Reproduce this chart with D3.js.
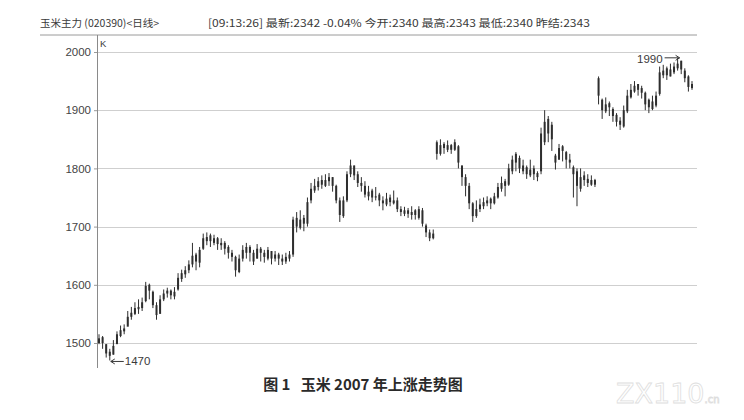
<!DOCTYPE html>
<html>
<head>
<meta charset="utf-8">
<script src="https://d3js.org/d3.v7.min.js"></script>
<style>
  body { margin: 0; background: #fff; }
  svg { display: block; }
</style>
</head>
<body>
<svg id="chart" width="744" height="420"></svg>
<script>
// daily K-line, corn main contract, 2007
var open = [1500,1510,1498,1485,1480,1498,1512,1520,1528,1545,1550,1562,1560,1572,1600,1588,1565,1550,1575,1585,
            1590,1580,1592,1610,1618,1625,1635,1652,1638,1662,1675,1685,1672,1680,1668,1672,1665,1655,1648,1622,
            1645,1655,1665,1655,1645,1662,1655,1645,1658,1645,1652,1645,1640,1645,1652,1715,1698,1715,1705,1745,
            1762,1768,1780,1770,1778,1785,1770,1745,1718,1745,1790,1805,1790,1775,1770,1752,1762,1750,1755,1745,
            1738,1750,1740,1745,1730,1722,1728,1720,1728,1715,1728,1702,1690,1680,1845,1825,1842,1832,1840,1832,
            1838,1805,1785,1770,1740,1718,1730,1735,1740,1748,1740,1750,1765,1778,1772,1795,1825,1818,1795,1802,
            1788,1800,1792,1795,1845,1885,1875,1822,1815,1838,1828,1815,1802,1795,1765,1788,1782,1772,1780,1955,
            1918,1898,1912,1902,1892,1882,1872,1898,1922,1932,1945,1938,1930,1918,1902,1908,1928,1960,1972,1958,
            1965,1972,1985,1968,1958,1938];
var high = [1515,1512,1498,1490,1505,1520,1530,1532,1555,1562,1570,1575,1578,1605,1602,1590,1570,1582,1592,1595,
            1592,1596,1620,1626,1632,1642,1672,1655,1665,1688,1690,1688,1686,1682,1680,1675,1668,1660,1650,1652,
            1668,1672,1668,1660,1670,1665,1660,1665,1658,1658,1655,1652,1655,1658,1717,1725,1728,1720,1750,1775,
            1782,1785,1788,1790,1792,1785,1772,1750,1752,1795,1815,1805,1795,1785,1778,1770,1765,1768,1758,1752,
            1758,1755,1762,1750,1735,1734,1732,1735,1730,1735,1732,1705,1695,1695,1848,1850,1845,1848,1842,1850,
            1840,1805,1790,1775,1742,1745,1748,1750,1752,1750,1758,1775,1786,1782,1808,1822,1828,1822,1815,1805,
            1815,1805,1795,1870,1900,1890,1880,1825,1842,1840,1830,1825,1805,1800,1800,1795,1790,1788,1782,1958,
            1920,1922,1915,1905,1895,1888,1908,1935,1945,1950,1945,1942,1932,1920,1925,1932,1975,1978,1975,1980,
            1982,1990,1985,1972,1960,1950];
var low  = [1498,1490,1475,1470,1480,1500,1510,1515,1530,1540,1548,1550,1555,1570,1575,1560,1540,1555,1572,1578,
            1575,1575,1590,1605,1612,1620,1630,1625,1630,1660,1668,1665,1668,1660,1660,1652,1645,1640,1614,1620,
            1640,1645,1640,1634,1645,1640,1638,1642,1635,1640,1634,1634,1636,1640,1648,1690,1695,1692,1700,1740,
            1758,1762,1765,1768,1770,1760,1740,1708,1715,1742,1785,1780,1768,1760,1750,1745,1742,1745,1735,1728,
            1735,1735,1738,1725,1718,1718,1715,1712,1712,1712,1700,1682,1675,1678,1815,1822,1825,1828,1825,1830,
            1800,1770,1752,1730,1708,1715,1725,1730,1735,1730,1738,1748,1760,1752,1770,1790,1795,1792,1790,1782,
            1785,1780,1778,1790,1840,1845,1830,1798,1815,1812,1800,1800,1750,1735,1760,1770,1768,1770,1768,1910,
            1885,1895,1890,1880,1872,1866,1870,1895,1920,1930,1925,1920,1900,1895,1900,1905,1925,1955,1952,1958,
            1962,1968,1962,1948,1932,1935];
var close = [1508,1500,1482,1478,1495,1515,1522,1525,1545,1552,1560,1558,1570,1598,1590,1565,1548,1575,1585,1590,
            1582,1588,1612,1620,1625,1635,1650,1640,1660,1680,1682,1675,1680,1670,1672,1662,1655,1648,1625,1645,
            1660,1665,1655,1640,1662,1655,1648,1660,1645,1652,1645,1640,1648,1652,1712,1700,1712,1705,1742,1765,
            1770,1778,1772,1780,1785,1770,1745,1720,1745,1790,1805,1788,1775,1770,1755,1760,1750,1752,1745,1740,
            1748,1742,1745,1730,1725,1728,1722,1725,1720,1730,1705,1690,1680,1688,1825,1840,1835,1840,1832,1845,
            1810,1785,1770,1740,1718,1730,1738,1742,1745,1740,1752,1768,1775,1770,1800,1815,1810,1800,1805,1790,
            1798,1790,1785,1860,1880,1860,1850,1810,1835,1830,1815,1810,1790,1770,1785,1780,1775,1780,1772,1925,
            1900,1910,1905,1890,1880,1875,1900,1925,1935,1942,1935,1930,1910,1905,1915,1925,1965,1968,1960,1970,
            1975,1980,1970,1955,1940,1945];

var yTicks = [1500, 1600, 1700, 1800, 1900, 2000];
var headerLeft = '玉米主力 (020390)<日线>';
var headerRight = '[09:13:26] 最新:2342 -0.04% 今开:2340 最高:2343 最低:2340 昨结:2343';
var caption = '图 1\u00a0\u00a0\u00a0玉米 2007 年上涨走势图';
var peakLabel = '1990';
var lowLabel = '1470';

var bars = open.map(function (o, i) {
	return { i: i, o: o, h: high[i], l: low[i], c: close[i] };
});

var svg = d3.select('#chart');
var plotLeft = 97, plotRight = 697, plotTop = 35, plotBottom = 368;

var x = d3.scaleLinear()
	.domain([0, bars.length - 1])
	.range([99, 692]);

var y = d3.scaleLinear()
	.domain([1500, 2000])
	.range([343, 52]);

var txt = '#3a3a3a';

//==================
// header
//==================
svg.append('text')
	.attr('x', 40).attr('y', 27)
	.style('font-family', 'Noto Sans CJK SC, sans-serif')
	.style('font-size', '10.5px')
	.style('fill', txt)
	.text(headerLeft);

svg.append('text')
	.attr('x', 208).attr('y', 27)
	.attr('textLength', 382)
	.attr('lengthAdjust', 'spacingAndGlyphs')
	.style('font-family', 'Noto Sans CJK SC, sans-serif')
	.style('font-size', '10.5px')
	.style('fill', txt)
	.text(headerRight);

svg.append('line')
	.attr('x1', 40).attr('x2', plotRight)
	.attr('y1', plotTop).attr('y2', plotTop)
	.style('stroke', '#9a9a9a')
	.style('stroke-width', 1);

//==================
// grid + y axis
//==================
svg.append('g')
	.selectAll('line')
	.data(yTicks)
	.enter().append('line')
		.attr('x1', plotLeft).attr('x2', plotRight)
		.attr('y1', function (d) { return Math.round(y(d)) + 0.5; })
		.attr('y2', function (d) { return Math.round(y(d)) + 0.5; })
		.style('stroke', '#cfcfcf')
		.style('stroke-width', 1);

var yAxis = d3.axisLeft(y)
	.tickValues(yTicks)
	.tickFormat(d3.format('d'))
	.tickSize(3)
	.tickPadding(3);

var gy = svg.append('g')
	.attr('transform', 'translate(' + plotLeft + ',0)')
	.call(yAxis);
gy.select('.domain').remove();
gy.selectAll('.tick line').style('stroke', '#999');
gy.selectAll('.tick text')
	.style('font-family', 'Liberation Sans, Arial, sans-serif')
	.style('font-size', '11.5px')
	.style('fill', '#444');

svg.append('line')
	.attr('x1', plotLeft + 0.5).attr('x2', plotLeft + 0.5)
	.attr('y1', plotTop).attr('y2', plotBottom)
	.style('stroke', '#8a8a8a')
	.style('stroke-width', 1);

svg.append('text')
	.attr('x', plotLeft + 3).attr('y', 47)
	.style('font-family', 'Liberation Sans, Arial, sans-serif')
	.style('font-size', '9.5px')
	.style('fill', txt)
	.text('K');

//==================
// candles
//==================
var candle = svg.append('g').selectAll('g')
	.data(bars)
	.enter().append('g');

candle.append('line')
	.attr('x1', function (d) { return x(d.i); })
	.attr('x2', function (d) { return x(d.i); })
	.attr('y1', function (d) { return y(d.h); })
	.attr('y2', function (d) { return y(d.l); })
	.style('stroke', '#2e2e2e')
	.style('stroke-width', 1);

candle.append('rect')
	.attr('x', function (d) { return x(d.i) - 1; })
	.attr('width', 2)
	.attr('y', function (d) { return y(Math.max(d.o, d.c)); })
	.attr('height', function (d) { return Math.max(1, Math.abs(y(d.o) - y(d.c))); })
	.style('fill', '#2e2e2e');

//==================
// annotations
//==================
var hiBar = bars[d3.maxIndex(bars, function (d) { return d.h; })];
var loBar = bars[d3.minIndex(bars, function (d) { return d.l; })];

function arrow (x1, x2, yy) {
	var dir = x2 > x1 ? -1 : 1;
	svg.append('path')
		.attr('d', 'M' + x1 + ',' + yy + 'H' + x2 +
			'M' + (x2 + dir * 4) + ',' + (yy - 2.5) + 'L' + x2 + ',' + yy + 'L' + (x2 + dir * 4) + ',' + (yy + 2.5))
		.style('fill', 'none')
		.style('stroke', txt)
		.style('stroke-width', 1);
}

var hx = x(hiBar.i), hy = y(hiBar.h) + 1;
svg.append('text')
	.attr('x', hx - 15).attr('y', hy + 4)
	.attr('text-anchor', 'end')
	.style('font-family', 'Liberation Sans, Arial, sans-serif')
	.style('font-size', '11.5px')
	.style('fill', txt)
	.text(peakLabel);
arrow(hx - 13, hx + 2, hy - 1);

var lx = x(loBar.i), ly = y(loBar.l) + 1;
arrow(lx + 14, lx + 1, ly);
svg.append('text')
	.attr('x', lx + 15).attr('y', ly + 4)
	.style('font-family', 'Liberation Sans, Arial, sans-serif')
	.style('font-size', '11.5px')
	.style('fill', txt)
	.text(lowLabel);

//==================
// caption + watermark
//==================
svg.append('text')
	.attr('x', 363).attr('y', 390)
	.attr('text-anchor', 'middle')
	.style('font-family', 'Noto Sans CJK SC, sans-serif')
	.style('font-weight', 'bold')
	.style('font-size', '15px')
	.style('fill', '#2a2a2a')
	.text(caption);

var wm = svg.append('text')
	.attr('x', 616).attr('y', 403)
	.style('font-family', 'DejaVu Sans, sans-serif')
	.style('fill', 'none')
	.style('stroke', '#dedede')
	.style('stroke-width', 0.8);
wm.append('tspan').style('font-size', '27px').text('ZX110');
wm.append('tspan').style('font-size', '10px').text('.cn');
</script>
</body>
</html>
